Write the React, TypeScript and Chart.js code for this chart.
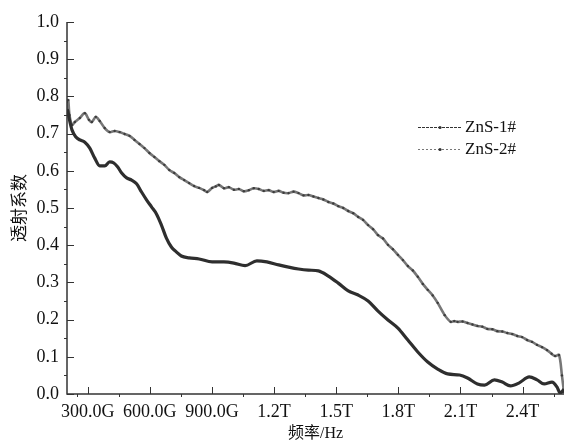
import React, { useEffect, useRef } from "react";
import { Chart, registerables } from "chart.js";

Chart.register(...registerables);

const seriesNames = ["ZnS-1#", "ZnS-2#"];
const xTickValues = [300, 600, 900, 1200, 1500, 1800, 2100, 2400];
const yTickValues = [0, 0.1, 0.2, 0.3, 0.4, 0.5, 0.6, 0.7, 0.8, 0.9, 1.0];

const freq1 = [200, 204, 210, 224, 243, 262, 286, 310, 334, 358, 382, 406, 426, 445, 464, 488, 512, 536, 560, 584, 608, 632, 656, 680, 704, 728, 752, 790, 838, 901, 958, 1006, 1060, 1117, 1165, 1222, 1270, 1318, 1366, 1414, 1462, 1510, 1558, 1606, 1654, 1702, 1750, 1798, 1846, 1894, 1942, 1990, 2038, 2096, 2134, 2182, 2216, 2264, 2302, 2341, 2384, 2432, 2470, 2504, 2542, 2566, 2581, 2600];
const zns1 = [0.765, 0.76, 0.742, 0.71, 0.691, 0.683, 0.677, 0.661, 0.634, 0.613, 0.613, 0.624, 0.621, 0.61, 0.594, 0.581, 0.575, 0.565, 0.543, 0.522, 0.503, 0.484, 0.454, 0.419, 0.395, 0.382, 0.371, 0.366, 0.363, 0.355, 0.355, 0.352, 0.345, 0.358, 0.355, 0.347, 0.341, 0.336, 0.333, 0.331, 0.317, 0.298, 0.277, 0.266, 0.25, 0.223, 0.199, 0.177, 0.145, 0.113, 0.086, 0.067, 0.054, 0.051, 0.043, 0.027, 0.024, 0.038, 0.032, 0.022, 0.03, 0.046, 0.038, 0.027, 0.032, 0.019, 0.003, 0.013];

const freq2 = [198, 202, 206, 212, 224, 238, 262, 286, 306, 320, 339, 358, 382, 406, 430, 454, 478, 502, 526, 550, 574, 598, 622, 646, 670, 694, 718, 742, 766, 790, 814, 838, 862, 877, 901, 918, 934, 958, 982, 1006, 1030, 1054, 1078, 1102, 1126, 1150, 1174, 1198, 1222, 1246, 1270, 1294, 1318, 1342, 1366, 1390, 1414, 1438, 1462, 1486, 1510, 1534, 1558, 1582, 1606, 1630, 1654, 1678, 1702, 1726, 1750, 1774, 1798, 1822, 1846, 1870, 1894, 1918, 1942, 1966, 1990, 2024, 2053, 2070, 2086, 2110, 2134, 2158, 2182, 2206, 2230, 2254, 2278, 2302, 2326, 2350, 2374, 2398, 2422, 2446, 2470, 2494, 2518, 2540, 2557, 2576, 2590, 2600];
const zns2 = [0.785, 0.763, 0.79, 0.75, 0.723, 0.731, 0.742, 0.755, 0.737, 0.731, 0.745, 0.734, 0.715, 0.704, 0.707, 0.704, 0.699, 0.694, 0.683, 0.672, 0.661, 0.648, 0.637, 0.626, 0.616, 0.602, 0.594, 0.583, 0.575, 0.567, 0.559, 0.554, 0.548, 0.543, 0.554, 0.558, 0.562, 0.553, 0.556, 0.549, 0.551, 0.545, 0.548, 0.553, 0.551, 0.546, 0.548, 0.543, 0.546, 0.541, 0.54, 0.544, 0.54, 0.534, 0.535, 0.531, 0.527, 0.523, 0.516, 0.512, 0.505, 0.5, 0.492, 0.486, 0.476, 0.468, 0.454, 0.443, 0.427, 0.418, 0.401, 0.389, 0.374, 0.36, 0.344, 0.332, 0.315, 0.296, 0.28, 0.265, 0.245, 0.212, 0.194, 0.196, 0.194, 0.195, 0.191, 0.187, 0.183, 0.181, 0.175, 0.174, 0.169, 0.168, 0.164, 0.161, 0.156, 0.153, 0.145, 0.14, 0.132, 0.126, 0.118, 0.108, 0.102, 0.105, 0.05, 0.005];

const SERIF = "Liberation Serif";
const CJK = "Liberation Serif, Noto Sans CJK SC";

const axisPlugin = {
  id: "customAxes",
  afterDraw(chart: any) {
    const ctx = chart.ctx;
    const { left, right, top, bottom } = chart.chartArea;
    const xs = chart.scales.x;
    const ys = chart.scales.y;
    ctx.save();
    ctx.strokeStyle = "#333";
    ctx.lineWidth = 1.5;
    ctx.beginPath();
    ctx.moveTo(left, top);
    ctx.lineTo(left, bottom);
    ctx.lineTo(right, bottom);
    ctx.stroke();
    ctx.lineWidth = 1;
    yTickValues.forEach((v) => {
      const y = Math.round(ys.getPixelForValue(v)) + 0.5;
      ctx.beginPath();
      ctx.moveTo(left, y);
      ctx.lineTo(left + 7, y);
      ctx.stroke();
      if (v < 1) {
        const ym = Math.round(ys.getPixelForValue(v + 0.05)) + 0.5;
        ctx.beginPath();
        ctx.moveTo(left - 3, ym);
        ctx.lineTo(left, ym);
        ctx.stroke();
      }
    });
    xTickValues.forEach((v) => {
      const x = Math.round(xs.getPixelForValue(v)) + 0.5;
      ctx.beginPath();
      ctx.moveTo(x, bottom);
      ctx.lineTo(x, bottom - 7);
      ctx.stroke();
    });
    [250, 450, 750, 1050, 1350, 1650, 1950, 2250, 2550].forEach((v) => {
      const x = Math.round(xs.getPixelForValue(v)) + 0.5;
      ctx.beginPath();
      ctx.moveTo(x, bottom);
      ctx.lineTo(x, bottom + 3);
      ctx.stroke();
    });
    const items = [
      { name: seriesNames[0], color: "#333", y: 127, dash: [3, 1] },
      { name: seriesNames[1], color: "#777", y: 149, dash: [2, 2] },
    ];
    items.forEach((it) => {
      ctx.strokeStyle = it.color;
      ctx.lineWidth = 1;
      ctx.setLineDash(it.dash);
      ctx.beginPath();
      ctx.moveTo(418, it.y + 0.5);
      ctx.lineTo(461, it.y + 0.5);
      ctx.stroke();
      ctx.setLineDash([]);
      ctx.fillStyle = "#333";
      ctx.beginPath();
      ctx.arc(440, it.y + 0.5, 1.6, 0, Math.PI * 2);
      ctx.fill();
      ctx.fillStyle = "#111";
      ctx.font = `17px "Liberation Serif"`;
      ctx.textAlign = "left";
      ctx.textBaseline = "middle";
      ctx.fillText(it.name, 465, it.y + 1);
    });
    ctx.restore();
  },
};

export default function App() {
  const ref = useRef<HTMLCanvasElement | null>(null);
  useEffect(() => {
    document.body.style.margin = "0";
    const canvas = ref.current!;
    const chart = new Chart(canvas, {
      type: "line",
      data: {
        datasets: [
          {
            label: seriesNames[0],
            data: freq1.map((f, i) => ({ x: f, y: zns1[i] })),
            borderColor: "#2e2e2e",
            borderWidth: 3.2,
            pointRadius: 0,
            cubicInterpolationMode: "monotone",
          },
          {
            label: seriesNames[1],
            data: freq2.map((f, i) => ({ x: f, y: zns2[i] })),
            borderColor: "#777",
            borderWidth: 2.6,
            pointRadius: 1.2,
            pointBackgroundColor: "#3c3c3c",
            pointBorderWidth: 0,
            tension: 0.3,
          },
        ],
      },
      options: {
        animation: false,
        responsive: false,
        maintainAspectRatio: false,
        layout: { padding: { top: 22, right: 1, left: 0, bottom: 0 } },
        plugins: { legend: { display: false }, tooltip: { enabled: false } },
        scales: {
          x: {
            type: "linear",
            min: 200,
            max: 2600,
            border: { display: false },
            grid: { display: false, drawTicks: false },
            afterBuildTicks: (s: any) => {
              s.ticks = xTickValues.map((v) => ({ value: v }));
            },
            afterFit: (s: any) => {
              s.height = 51;
            },
            ticks: {
              maxRotation: 0,
              autoSkip: false,
              padding: 7,
              color: "#111",
              font: { family: SERIF, size: 18 },
              callback: (v: any) =>
                v < 1000 ? `${Number(v).toFixed(1)}G` : `${(v / 1000).toFixed(1)}T`,
            },
            title: {
              display: true,
              text: "频率/Hz",
              color: "#111",
              font: { family: CJK, size: 16 },
              padding: { top: 0, bottom: 2 },
            },
          },
          y: {
            min: 0,
            max: 1,
            border: { display: false },
            grid: { display: false, drawTicks: false },
            afterBuildTicks: (s: any) => {
              s.ticks = yTickValues.map((v) => ({ value: v }));
            },
            afterFit: (s: any) => {
              s.width = 67;
            },
            ticks: {
              padding: 8,
              color: "#111",
              font: { family: SERIF, size: 18 },
              callback: (v: any) => Number(v).toFixed(1),
            },
            title: {
              display: true,
              text: "透射系数",
              color: "#111",
              font: { family: CJK, size: 17 },
              padding: { top: 10, bottom: 0 },
            },
          },
        },
      },
      plugins: [axisPlugin],
    } as any);
    return () => chart.destroy();
  }, []);
  return (
    <div style={{ position: "absolute", left: 0, top: 0, width: 568, height: 445 }}>
      <canvas ref={ref} width={568} height={445} style={{ width: 568, height: 445 }} />
    </div>
  );
}
